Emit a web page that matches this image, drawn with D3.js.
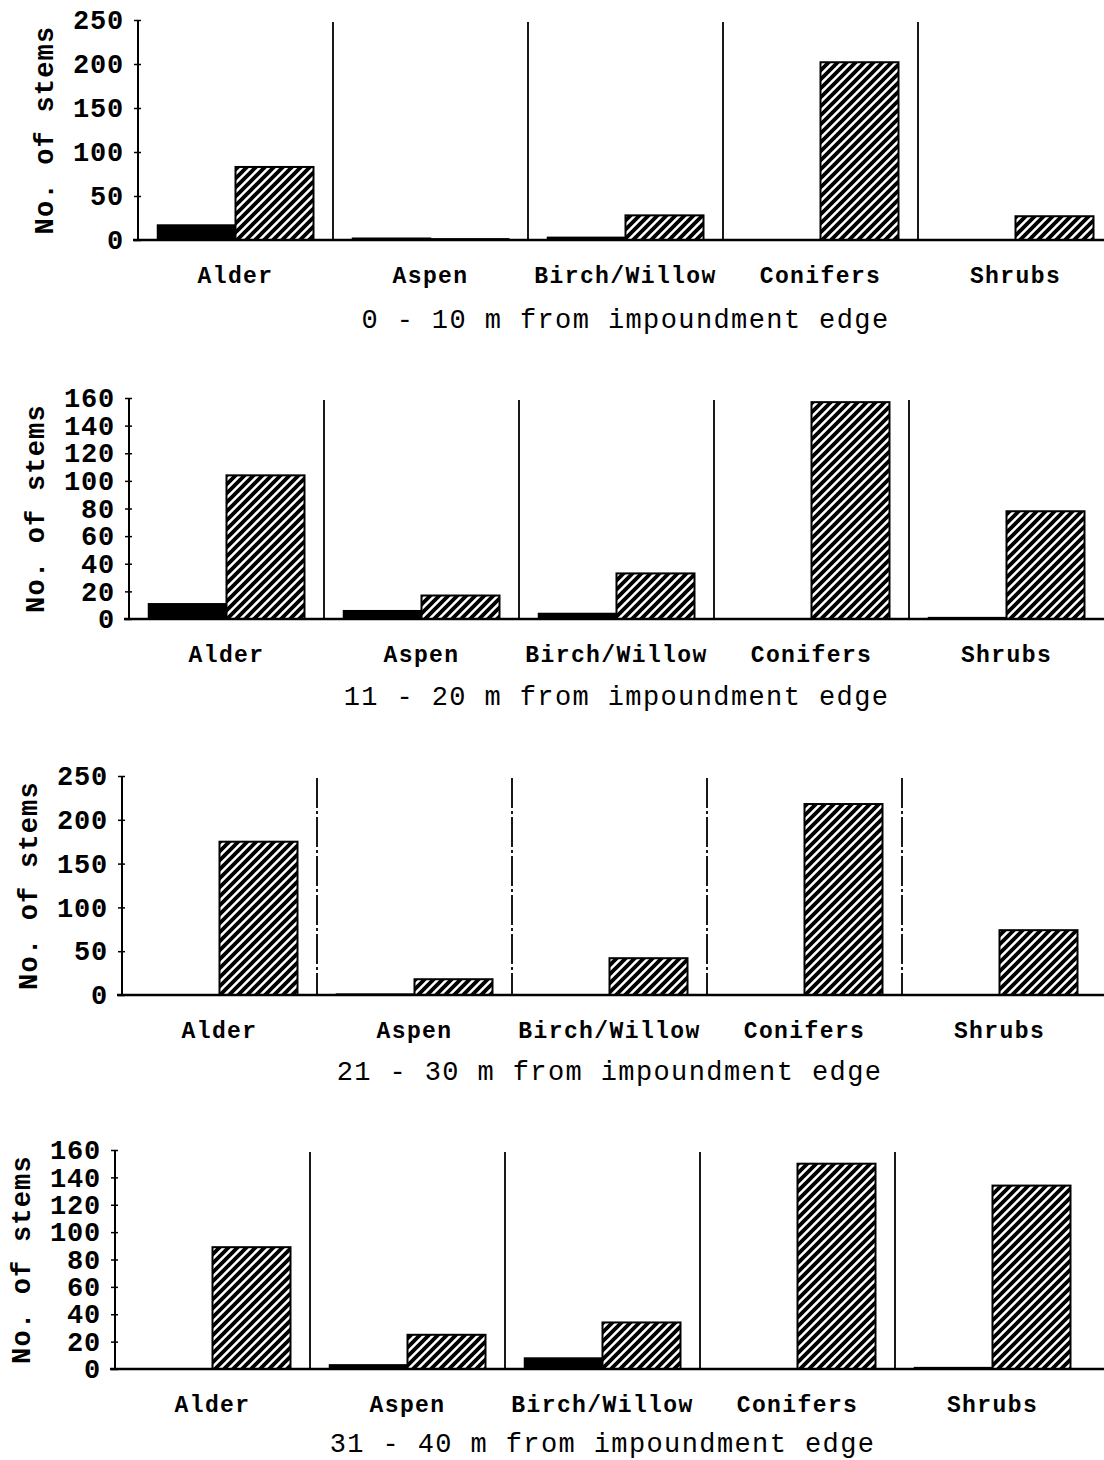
<!DOCTYPE html>
<html><head><meta charset="utf-8">
<script src="https://cdn.jsdelivr.net/npm/d3@7/dist/d3.min.js"></script>
<style>body{margin:0;background:#fff}svg{display:block}</style>
</head><body>
<svg id="chart" width="1104" height="1460"></svg>
<script>
const categories = ["Alder", "Aspen", "Birch/Willow", "Conifers", "Shrubs"];
const panelTitles = ["0 - 10 m from impoundment edge", "11 - 20 m from impoundment edge",
                     "21 - 30 m from impoundment edge", "31 - 40 m from impoundment edge"];
// solid black bars
const blackValues = [
  [17, 2, 3, 0, 0],
  [11, 6, 4, 0, 1],
  [0, 1, 0, 0, 0],
  [0, 3, 8, 0, 1]
];
// hatched bars
const hatchedValues = [
  [83, 1, 28, 202, 27],
  [104, 17, 33, 157, 78],
  [175, 18, 42, 218, 74],
  [89, 25, 34, 150, 134]
];
const yMax = [250, 160, 250, 160];
const yTicks = [
  [0, 50, 100, 150, 200, 250],
  [0, 20, 40, 60, 80, 100, 120, 140, 160],
  [0, 50, 100, 150, 200, 250],
  [0, 20, 40, 60, 80, 100, 120, 140, 160]
];
const yLabel = "No. of stems";

// layout (positions only)
const layout = [
  {ax: 138, top: 20, bottom: 240, dash: null, tOff: 88},
  {ax: 129, top: 398, bottom: 619, dash: null, tOff: 86},
  {ax: 122, top: 776, bottom: 995, dash: "30,3,3,3", tOff: 85},
  {ax: 115, top: 1150, bottom: 1369, dash: null, tOff: 83}
];
const groupW = 195;

const svg = d3.select("#chart");
const defs = svg.append("defs");
const P = 9;
const pat = defs.append("pattern").attr("id", "hatch").attr("patternUnits", "userSpaceOnUse")
  .attr("width", P).attr("height", P);
pat.append("rect").attr("width", P).attr("height", P).attr("fill", "#fff");
pat.append("path").attr("d", `M-2,2 L2,-2 M0,${P} L${P},0 M${P-2},${P+2} L${P+2},${P-2}`)
  .attr("stroke", "#000").attr("stroke-width", 3.8);

const mono = "'Liberation Mono','Courier New',monospace";

layout.forEach((L, p) => {
  const g = svg.append("g");
  const x = d3.scaleBand().domain(categories).range([L.ax, L.ax + groupW * 5]).padding(0);
  const xs = d3.scaleBand().domain(["black", "hatched"]).range([0, x.bandwidth()])
    .paddingInner(0).paddingOuter(0.25);
  const y = d3.scaleLinear().domain([0, yMax[p]]).range([L.bottom, L.top]);

  // separators
  g.selectAll("line.sep").data(categories.slice(1)).join("line").attr("class", "sep")
    .attr("x1", d => x(d)).attr("x2", d => x(d))
    .attr("y1", L.top + 2).attr("y2", L.bottom)
    .attr("stroke", "#000").attr("stroke-width", 1.8)
    .attr("stroke-dasharray", L.dash);

  // bars
  const rows = categories.map((c, i) => ({c, black: blackValues[p][i], hatched: hatchedValues[p][i]}));
  g.selectAll("rect.bk").data(rows).join("rect").attr("class", "bk")
    .attr("x", d => x(d.c) + xs("black")).attr("width", xs.bandwidth())
    .attr("y", d => y(d.black)).attr("height", d => y(0) - y(d.black))
    .attr("fill", "#000").attr("stroke", "#000").attr("stroke-width", 1.5);
  g.selectAll("rect.ht").data(rows).join("rect").attr("class", "ht")
    .attr("x", d => x(d.c) + xs("hatched")).attr("width", xs.bandwidth())
    .attr("y", d => y(d.hatched)).attr("height", d => y(0) - y(d.hatched))
    .attr("fill", "url(#hatch)").attr("stroke", "#000").attr("stroke-width", 2);

  // baseline
  g.append("line").attr("x1", L.ax - 5).attr("x2", 1104)
    .attr("y1", L.bottom).attr("y2", L.bottom).attr("stroke", "#000").attr("stroke-width", 2.5);

  // y axis
  const yAxis = d3.axisLeft(y).tickValues(yTicks[p]).tickSizeInner(4).tickSizeOuter(0).tickPadding(10);
  const ag = g.append("g").attr("transform", `translate(${L.ax},0)`).call(yAxis);
  ag.select(".domain").attr("stroke", "#000").attr("stroke-width", 2)
    .attr("d", `M0,${L.top}V${L.bottom}`);
  ag.selectAll(".tick line").attr("stroke", "#000").attr("stroke-width", 1.5).attr("x1", 3);
  ag.selectAll(".tick text").attr("font-family", mono).attr("font-weight", "bold")
    .attr("font-size", 27).attr("letter-spacing", 0.8).attr("fill", "#000");

  // y label
  g.append("text").attr("transform", `translate(${L.ax - 92},${(L.top + L.bottom) / 2}) rotate(-90)`)
    .attr("text-anchor", "middle").attr("dominant-baseline", "central")
    .attr("font-family", mono).attr("font-weight", "bold").attr("font-size", 27)
    .attr("letter-spacing", 1.2).text(yLabel);

  // category labels
  g.selectAll("text.cat").data(categories).join("text").attr("class", "cat")
    .attr("x", d => x(d) + x.bandwidth() / 2).attr("y", L.bottom + 43)
    .attr("text-anchor", "middle").attr("font-family", mono).attr("font-weight", "bold")
    .attr("font-size", 23).attr("letter-spacing", 1.4).text(d => d);

  // panel title
  g.append("text").attr("x", L.ax + groupW * 2.5).attr("y", L.bottom + L.tOff)
    .attr("text-anchor", "middle").attr("font-family", mono).attr("font-weight", "normal")
    .attr("font-size", 27).attr("letter-spacing", 1.4).text(panelTitles[p]);
});
</script>
</body></html>
